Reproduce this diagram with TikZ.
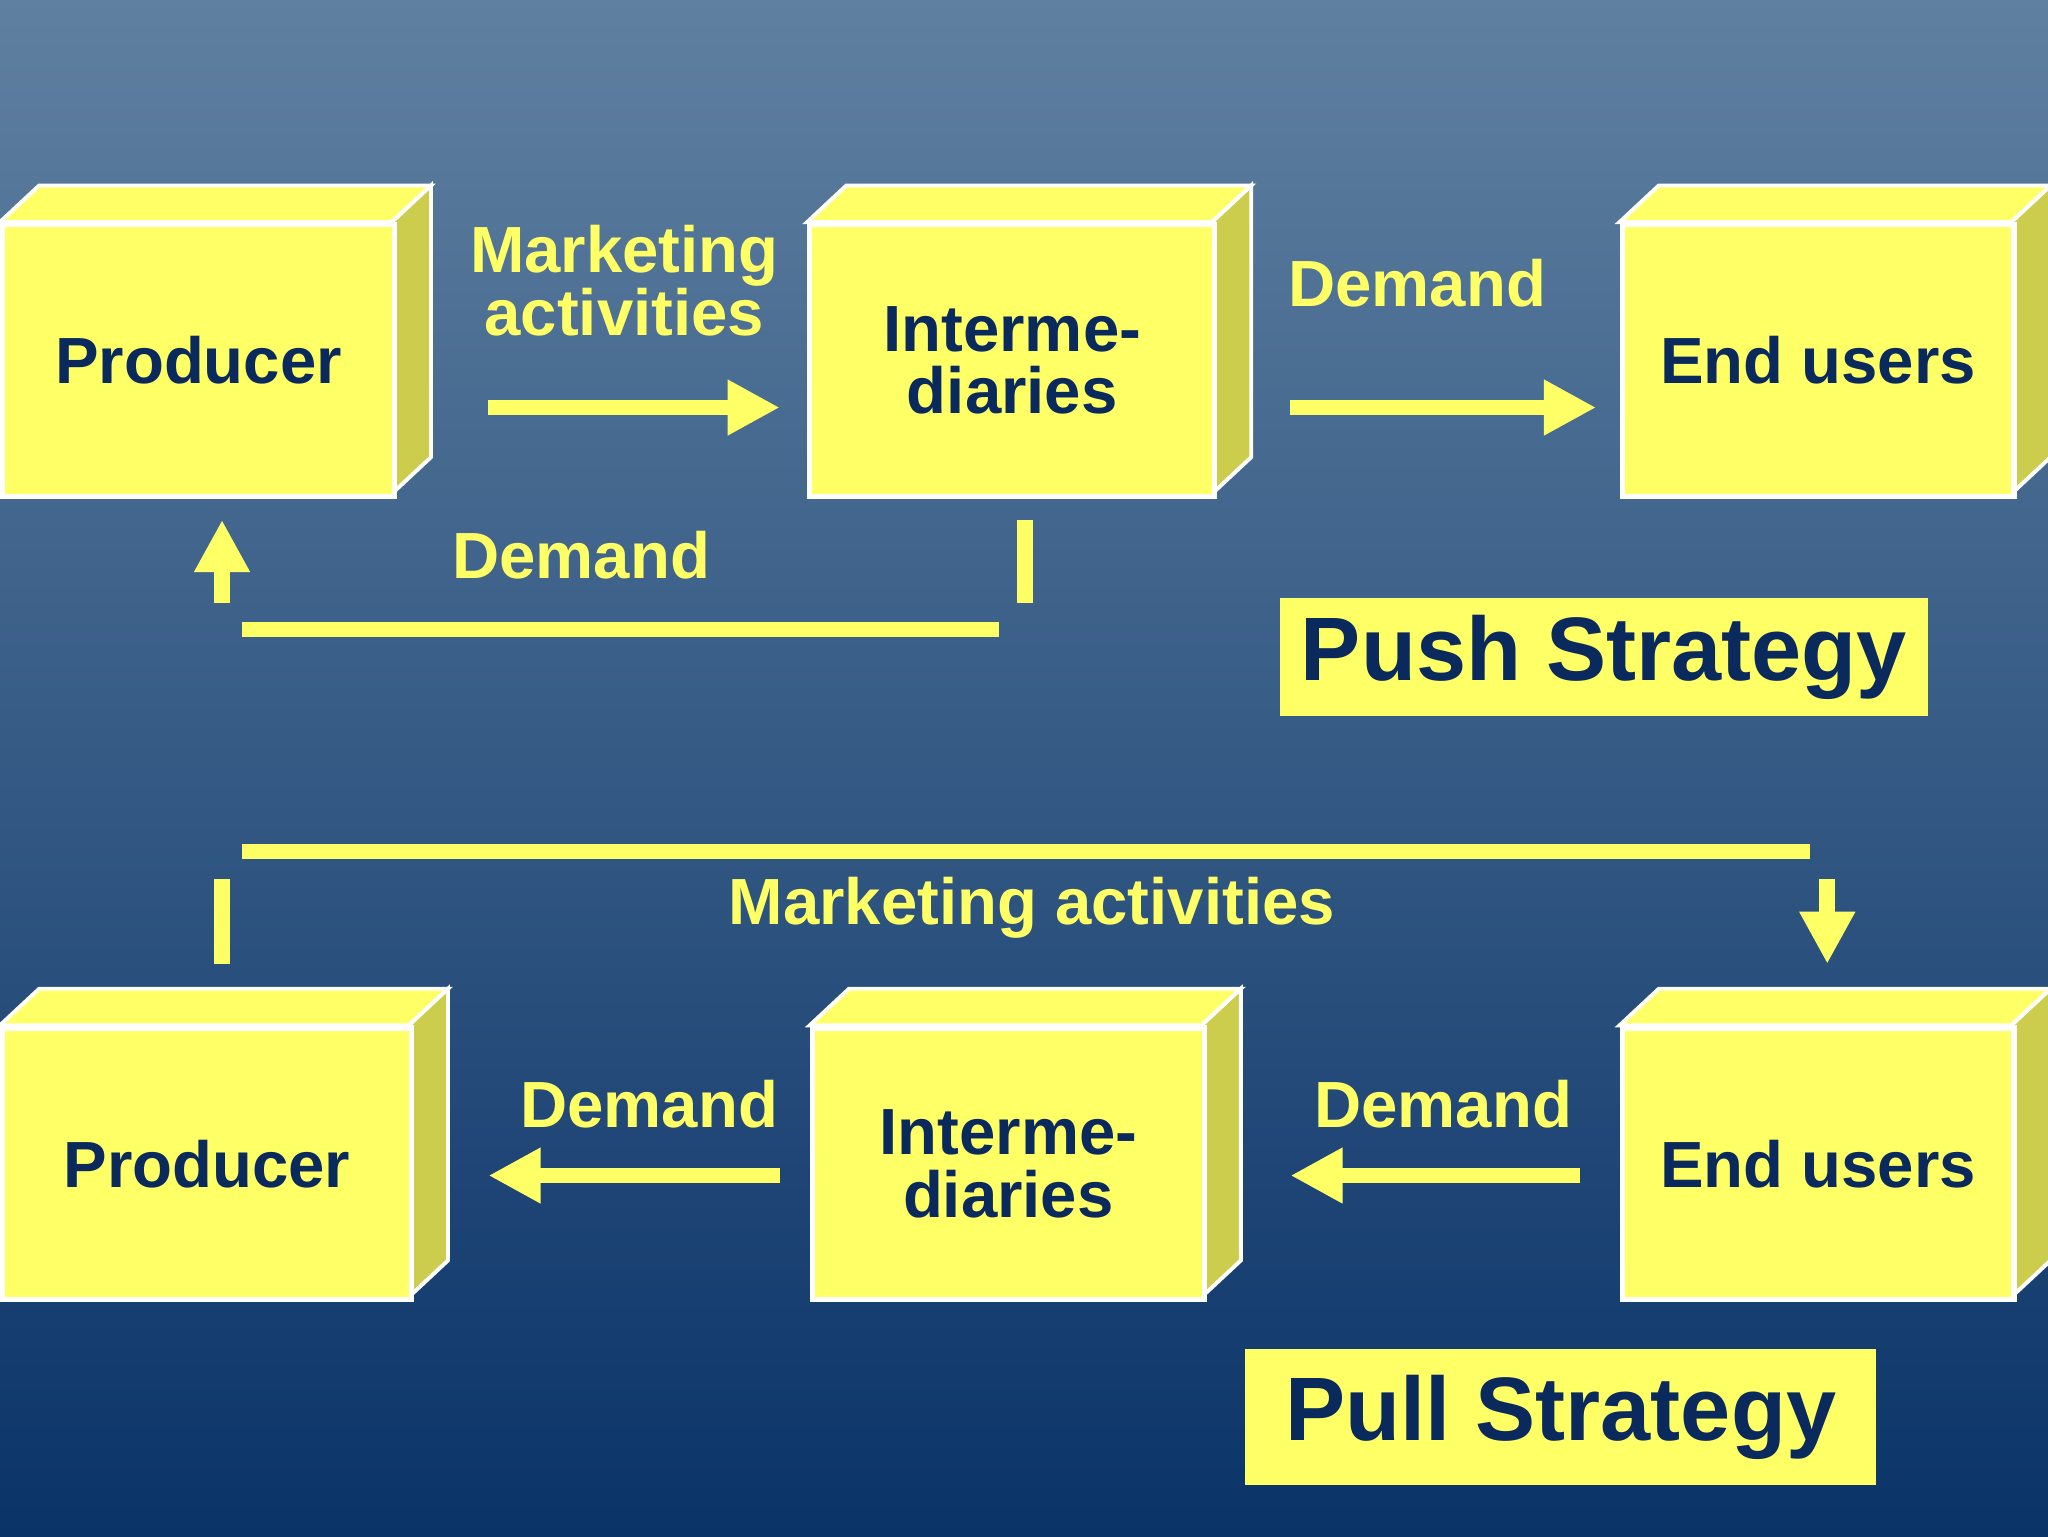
\documentclass[tikz,border=0pt]{standalone}
\usepackage{fontspec}
\setmainfont{Liberation Sans}
\usetikzlibrary{arrows.meta}
\definecolor{yel}{HTML}{FFFF66}
\definecolor{yside}{HTML}{CCCC4D}
\definecolor{navy}{HTML}{0A2A5E}
\definecolor{bgtop}{HTML}{5F80A0}
\definecolor{bgbot}{HTML}{0A3368}
\begin{document}
\begin{tikzpicture}[x=1pt,y=-1pt,
  front/.style={draw=white,line width=4pt,fill=yel,anchor=north west,inner sep=0pt,
    text=navy,font=\bfseries\fontsize{50}{48}\selectfont,align=center},
  topface/.style={draw=white,line width=3pt,fill=yel},
  sideface/.style={draw=white,line width=3pt,fill=yside},
  lbl/.style={text=yel,font=\bfseries\fontsize{50}{48}\selectfont,align=center},
  ln/.style={draw=yel,line width=12pt},
  arr/.style={ln,-{Triangle[length=40pt,width=40pt]}},
  strat/.style={fill=yel,text=navy,font=\bfseries\fontsize{69}{70}\selectfont,inner sep=0pt}]
\useasboundingbox (0,0) rectangle (1568,1176);
\shade[top color=bgtop,bottom color=bgbot] (0,0) rectangle (1568,1176);
% boxes: x0,y0,w,h
\foreach \n/\x/\y/\w/\t in {p1/0/170/300/Producer,i1/618/170/310/{Interme-\\diaries},e1/1240/170/300/End users,
  p2/0/785/313/Producer,i2/620/785/300/{Interme-\\diaries},e2/1240/785/300/End users}{
  \fill[topface] (\x,\y) -- ++(30,-28) -- ++(\w,0) -- ++(-30,28) -- cycle;
  \fill[sideface] (\x+\w,\y) -- ++(30,-28) -- ++(0,208) -- ++(-30,28) -- cycle;
  \node[front,minimum width=\w pt,minimum height=208pt] (\n) at (\x,\y) {\t};
}
% push
\coordinate (a1s) at (374,312); \coordinate (a1e) at (597,312);
\draw[arr] (a1s) -- (a1e);
\coordinate (a2s) at (988,312); \coordinate (a2e) at (1222,312);
\draw[arr] (a2s) -- (a2e);
\coordinate (b1) at (785,398); \coordinate (b2) at (785,462);
\draw[ln] (b1) -- (b2);
\coordinate (h1) at (765,482); \coordinate (h2) at (185,482);
\draw[ln] (h1) -- (h2);
\coordinate (u1) at (170,462); \coordinate (u2) at (170,398);
\draw[arr] (u1) -- (u2);
\node[lbl] (l1) at (478,215) {Marketing\\activities};
\node[lbl] (l2) at (1085,217) {Demand};
\node[lbl] (l3) at (445,425) {Demand};
\node[strat,minimum width=496pt,minimum height=90pt] (push) at (1228,503) {Push Strategy};
% pull
\coordinate (g1) at (185,652); \coordinate (g2) at (1386,652);
\draw[ln] (g1) -- (g2);
\coordinate (v1) at (170,673); \coordinate (v2) at (170,738);
\draw[ln] (v1) -- (v2);
\coordinate (d1) at (1399,673); \coordinate (d2) at (1399,738);
\draw[arr] (d1) -- (d2);
\coordinate (c1s) at (597,900); \coordinate (c1e) at (374,900);
\draw[arr] (c1s) -- (c1e);
\coordinate (c2s) at (1210,900); \coordinate (c2e) at (988,900);
\draw[arr] (c2s) -- (c2e);
\node[lbl] (l4) at (790,695) {Marketing activities};
\node[lbl] (l5) at (497,845) {Demand};
\node[lbl] (l6) at (1105,845) {Demand};
\node[strat,minimum width=483pt,minimum height=104pt] (pull) at (1195,1085) {Pull Strategy};
\end{tikzpicture}
\end{document}
